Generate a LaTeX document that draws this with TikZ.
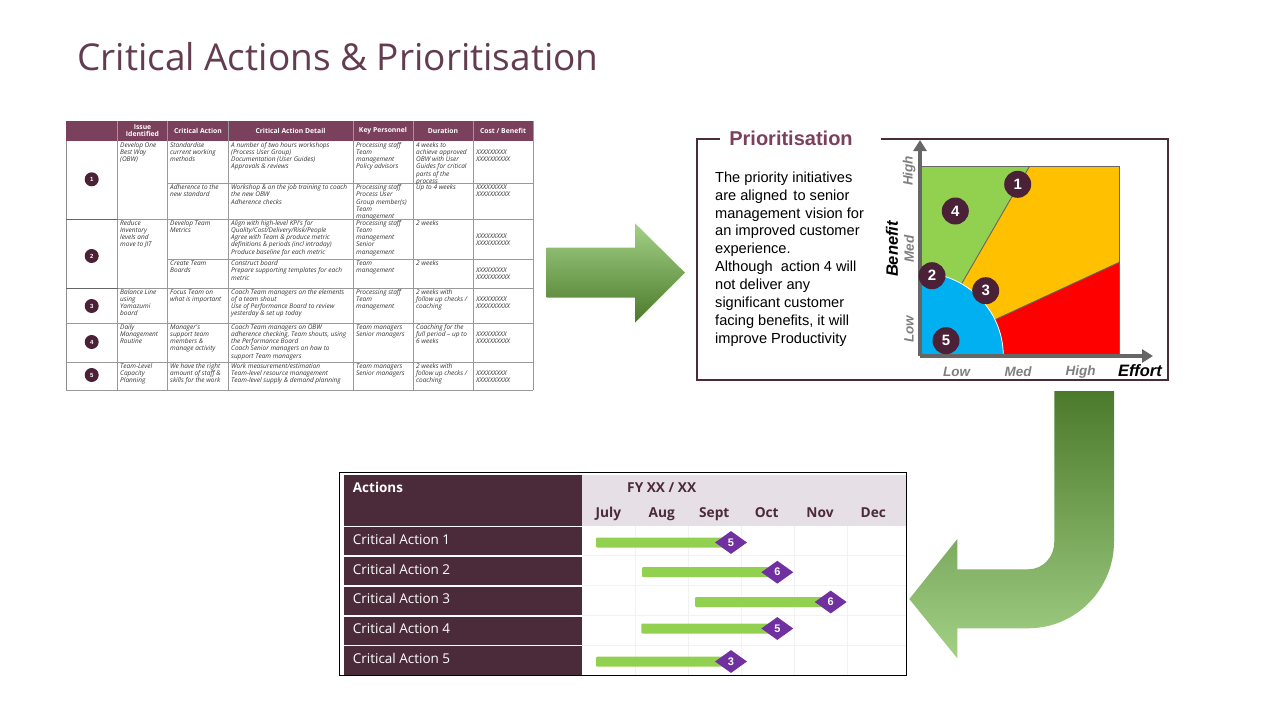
\documentclass[tikz,border=0pt]{standalone}
\usepackage{fontspec}
\setmainfont{Liberation Sans}
\newfontfamily\titlefont{Open Sans}
\newfontfamily\tablefont{Open Sans}
\newfontfamily\ganttfont{Open Sans}
\usetikzlibrary{arrows.meta,shapes.geometric}
\definecolor{plum}{HTML}{4B2A39}
\definecolor{darkplum}{HTML}{4A2136}
\definecolor{headplum}{HTML}{7A405C}
\definecolor{titleplum}{HTML}{633C50}
\definecolor{headlight}{HTML}{E6DFE6}
\definecolor{barplum}{HTML}{7030A0}
\definecolor{bargreen}{HTML}{92D050}
\definecolor{zoneorange}{HTML}{FFC000}
\definecolor{zoneblue}{HTML}{00B0F0}
\definecolor{axisgray}{HTML}{666666}
\definecolor{labelgray}{HTML}{7F7F7F}
\definecolor{arrowdark}{HTML}{4C7A2C}
\definecolor{arrowmid}{HTML}{70B045}
\definecolor{arrowlight}{HTML}{A2D085}
\tikzset{
  celltext/.style={anchor=north west,inner sep=0pt,align=left,yshift=.5pt,font=\tablefont\itshape\fontsize{6.5}{7.2}\selectfont,text=black!80},
  headtext/.style={inner sep=0pt,align=center,text=white,font=\tablefont\bfseries\fontsize{6.8}{7.2}\selectfont},
  issuedot/.style={circle,fill=darkplum,text=white,inner sep=0pt,minimum size=14pt,font=\bfseries\fontsize{6}{6}\selectfont},
  chartdot/.style={circle,fill=darkplum,text=white,inner sep=0pt,minimum size=27pt,font=\bfseries\fontsize{15}{15}\selectfont},
  scaletext/.style={inner sep=0pt,text=labelgray,font=\bfseries\itshape\fontsize{13.5}{14}\selectfont},
  axistext/.style={inner sep=0pt,text=black,font=\bfseries\itshape\fontsize{16.5}{17}\selectfont},
  rowtext/.style={anchor=west,inner sep=0pt,text=white,font=\ganttfont\fontsize{13.5}{14}\selectfont},
  monthtext/.style={anchor=base,inner sep=0pt,text=plum,font=\ganttfont\bfseries\fontsize{13.7}{14}\selectfont},
  milestone/.style={diamond,aspect=1.4,fill=barplum,text=white,inner sep=0pt,minimum width=32pt,minimum height=23pt,font=\bfseries\fontsize{11}{11}\selectfont},
  axisline/.style={axisgray,line width=3.3pt,-{Triangle[length=11pt,width=13pt]}},
}
\begin{document}
\begin{tikzpicture}[x=1pt,y=-1pt]
\useasboundingbox (0,0) rectangle (1280,720);
\node[anchor=west,inner sep=0pt,text=titleplum,font=\titlefont\fontsize{37}{40}\selectfont] (title) at (77,57) {Critical Actions \& Prioritisation};
% table
\fill[headplum] (66,121) rectangle (533,141);
\foreach \colx in {117.5,167.5,228,353,413,473,533}
	\draw[black!40,line width=.7pt] (\colx,121) -- (\colx,390);
\draw[black!45,line width=.7pt] (66,141) -- (66,390);
\foreach \rowy in {183.7,259.5}
	\draw[black!40,line width=.7pt] (167.5,\rowy) -- (533,\rowy);
\foreach \rowy in {219,288,323,362,390}
	\draw[black!40,line width=.7pt] (66,\rowy) -- (533,\rowy);
\draw[black!60,line width=.7pt] (66,219) -- (117.5,219) (66,288) -- (117.5,288);
\foreach \hx/\htext [count=\hi] in {142.5/{Issue\\Identified},198/{Critical Action},290.5/{Critical Action Detail},383/{Key Personnel},443/{Duration},503/{Cost / Benefit}}
	\node[headtext] (head\hi) at (\hx,131) {\htext};
\foreach \dy/\dn in {179.3/1,256/2,306/3,342/4,375/5}
	\node[issuedot] (issue\dn) at (91.7,\dy) {\dn};
\foreach \cx/\cy/\ctext [count=\ci] in {
	120/142/{Develop One\\Best Way\\(OBW)},
	170/142/{Standardise\\current working\\methods},
	231/142/{A number of two hours workshops\\(Process User Group)\\Documentation (User Guides)\\Approvals \& reviews},
	356/142/{Processing staff\\Team\\management\\Policy advisors},
	416/142/{4 weeks to\\achieve approved\\OBW with User\\Guides for critical\\parts of the\\process},
	476/149/{XXXXXXXXX\\XXXXXXXXXX},
	170/184.5/{Adherence to the\\new standard},
	231/184.5/{Workshop \& on the job training to coach\\the new OBW\\Adherence checks},
	356/184.5/{Processing staff\\Process User\\Group member(s)\\Team\\management},
	416/184.5/{Up to 4 weeks},
	476/184.5/{XXXXXXXXX\\XXXXXXXXXX},
	120/220/{Reduce\\Inventory\\levels and\\move to JIT},
	170/220/{Develop Team\\Metrics},
	231/220/{Align with high-level KPI's for\\Quality/Cost/Delivery/Risk/People\\Agree with Team \& produce metric\\definitions \& periods (incl intraday)\\Produce baseline for each metric},
	356/220/{Processing staff\\Team\\management\\Senior\\management},
	416/220/{2 weeks},
	476/233.5/{XXXXXXXXX\\XXXXXXXXXX},
	170/260.5/{Create Team\\Boards},
	231/260.5/{Construct board\\Prepare supporting templates for each\\metric},
	356/260.5/{Team\\management},
	416/260.5/{2 weeks},
	476/267.5/{XXXXXXXXX\\XXXXXXXXXX},
	120/289/{Balance Line\\using\\Yamazumi\\board},
	170/289/{Focus Team on\\what is important},
	231/289/{Coach Team managers on the elements\\of a team shout\\Use of Performance Board to review\\yesterday \& set up today},
	356/289/{Processing staff\\Team\\management},
	416/289/{2 weeks with\\follow up checks /\\coaching},
	476/296/{XXXXXXXXX\\XXXXXXXXXX},
	120/324/{Daily\\Management\\Routine},
	170/324/{Manager's\\support team\\members \&\\manage activity},
	231/324/{Coach Team managers on OBW\\adherence checking, Team shouts, using\\the Performance Board\\Coach Senior managers on how to\\support Team managers},
	356/324/{Team managers\\Senior managers},
	416/324/{Coaching for the\\full period – up to\\6 weeks},
	476/331/{XXXXXXXXX\\XXXXXXXXXX},
	120/363/{Team-Level\\Capacity\\Planning},
	170/363/{We have the right\\amount of staff \&\\skills for the work},
	231/363/{Work measurement/estimation\\Team-level resource management\\Team-level supply \& demand planning},
	356/363/{Team managers\\Senior managers},
	416/363/{2 weeks with\\follow up checks /\\coaching},
	476/370/{XXXXXXXXX\\XXXXXXXXXX}}
	\node[celltext] (cell\ci) at (\cx,\cy) {\rule{0pt}{5.5pt}\ctext};
% arrows
\shade[top color=arrowlight,middle color=arrowmid,bottom color=arrowdark] (546.7,247.7) -- (635,247.7) -- (635,223.3) -- (685,272.7) -- (635,322.7) -- (635,297.7) -- (546.7,297.7) -- cycle;
\shade[top color=arrowdark,middle color=arrowmid,bottom color=arrowlight] (1054.3,391) -- (1114,391) -- (1114,541.7) .. controls (1114,589) and (1076,628.3) .. (1028,628.3) -- (957.3,628.3) -- (957.3,658.3) -- (909.3,599) -- (957.3,539) -- (957.3,569.3) -- (1028.3,569.3) .. controls (1043,569.3) and (1054.3,557) .. (1054.3,541.7) -- cycle;
% prioritisation box
\draw[plum,line width=1.6pt] (720,139) -- (697,139) -- (697,380) -- (1167.7,380) -- (1167.7,139) -- (880.7,139);
\node[inner sep=0pt,text=headplum,font=\bfseries\fontsize{20}{20}\selectfont] (priotitle) at (791,138) {Prioritisation};
\node[anchor=north west,inner sep=0pt,align=left,font=\fontsize{14.6}{17.9}\selectfont] (priotext) at (715,171.5) {The priority initiatives\\are aligned \hspace{2pt}to senior\\management \hspace{1pt}vision for\\an improved customer\\experience.\\Although \ action 4 will\\not deliver any\\significant customer\\facing benefits, it will\\improve Productivity};
% chart
\fill[bargreen] (920,166.7) rectangle (1119.3,356);
\fill[zoneorange] (1029.3,166.7) -- (1119.3,166.7) -- (1119.3,262.3) -- (990,322) -- (958,290) -- cycle;
\fill[red] (1119.3,262.3) -- (1119.3,356) -- (990,356) -- (990,322) -- cycle;
\draw[axisgray,line width=.9pt] (920,166.7) -- (1119.3,166.7) -- (1119.3,356);
\draw[axisgray,line width=.9pt] (1029.3,166.7) -- (958,290) (1119.3,262.3) -- (990,322);
\fill[zoneblue] (920,356) -- (1003.3,356) arc[start angle=0,end angle=90,radius=83.3pt] -- cycle;
\draw[white,line width=.8pt] (1003.3,356) arc[start angle=0,end angle=90,radius=83.3pt];
\coordinate (origin) at (920,356);
\coordinate (xtip) at (1153,356);
\coordinate (ytip) at (920,140);
\draw[axisline] (origin) -- (xtip);
\draw[axisline] (origin) -- (ytip);
\foreach \px/\py/\pn in {1017.7/184.3/1,955.3/211/4,932/275.7/2,985.7/290.7/3,946/340.7/5}
	\node[chartdot] (act\pn) at (\px,\py) {\pn};
\foreach \ly/\ltext in {171/High,249/Med,329/Low}
	\node[scaletext,rotate=90] (y\ltext) at (909,\ly) {\ltext};
\foreach \lx/\ltext in {956.7/Low,1018/Med,1080.7/High}
	\node[scaletext] (x\ltext) at (\lx,372) {\ltext};
\node[axistext,rotate=90] (benefit) at (892,249) {Benefit};
\node[axistext] (effort) at (1140,371) {Effort};
% gantt
\draw[black,line width=.9pt] (339.3,472.3) rectangle (906.7,675.7);
\fill[headlight] (582.3,475) rectangle (906,526);
\fill[plum] (344.3,475) rectangle (582.3,526);
\foreach \gx in {635,688.3,741,794,847.3}
	\draw[black!5,line width=.5pt] (\gx,526) -- (\gx,675);
\foreach \gy in {555.7,585.7,615.7,645}
	\draw[black!5,line width=.5pt] (582.3,\gy) -- (906,\gy);
\foreach \ra/\rb/\rc/\rn in {527/555.3/539/1,556.7/585/569/2,586.7/615/598.5/3,616.7/644.5/628/4,646/674.5/658/5}{
	\fill[plum] (344.3,\ra) rectangle (582.3,\rb);
	\node[rowtext] (action\rn) at (352.7,\rc) {Critical Action \rn};
}
\node[rowtext,font=\ganttfont\bfseries\fontsize{13.5}{14}\selectfont] (actions) at (352.7,487.7) {Actions};
\node[monthtext] (fy) at (661.7,492.5) {FY XX / XX};
\foreach \mx/\mtext in {608.3/July,661.7/Aug,714.3/Sept,766.7/Oct,820/Nov,873.3/Dec}
	\node[monthtext] (m\mtext) at (\mx,517.5) {\mtext};
\foreach \bs/\bc/\by/\bh/\bn [count=\bi] in {596/731/542.5/5/5,642/777.3/572.2/5/6,695/830.7/602/5/6,641.3/777.3/628.5/5/5,596/731/661.5/5/3}{
	\fill[bargreen,rounded corners=1pt] (\bs,\by-\bh) rectangle (\bc,\by+\bh);
	\node[milestone] (stone\bi) at (\bc,\by) {\bn};
}
\end{tikzpicture}
\end{document}
